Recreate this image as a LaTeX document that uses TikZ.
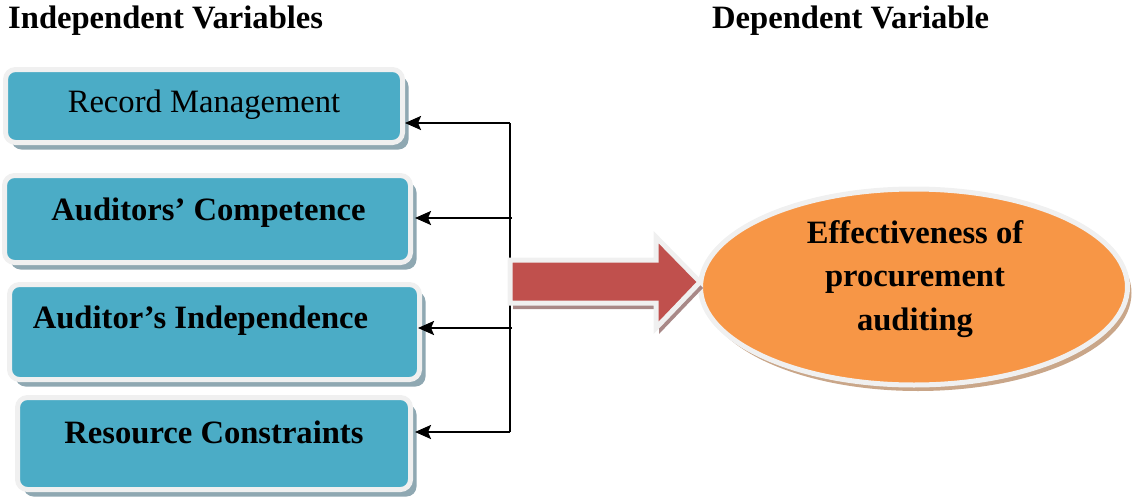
\documentclass[tikz,border=0pt]{standalone}
\usepackage{fontspec}
\setmainfont{Liberation Serif}
\usetikzlibrary{shadows,shapes.geometric,arrows.meta}
\definecolor{boxblue}{HTML}{4BACC6}
\definecolor{boxshad}{HTML}{8FA8B2}
\definecolor{rimwhite}{HTML}{F0F0F0}
\definecolor{arrred}{HTML}{C0504D}
\definecolor{arrshad}{HTML}{A88887}
\definecolor{ellorange}{HTML}{F79646}
\definecolor{ellshad}{HTML}{C9A689}
\newcommand{\bigfs}{\fontsize{32.6}{43.5}\selectfont}
\begin{document}
\begin{tikzpicture}[x=1pt,y=-1pt,
  varbox/.style={rectangle, rounded corners=10pt, fill=boxblue, draw=rimwhite, line width=5pt,
    inner sep=0pt, drop shadow={shadow xshift=6pt,shadow yshift=-7pt,fill=boxshad,opacity=1}},
  lbl/.style={inner sep=0pt, anchor=base, font=\bigfs\bfseries},
  conn/.style={line width=2.4pt, draw=black},
  arr/.style={conn, -{Stealth[length=16pt,width=14pt,inset=3pt]}},
]
\useasboundingbox (0,0) rectangle (1136,501);

% titles
\node[inner sep=0pt, anchor=base west, font=\bigfs\bfseries] (tind) at (8,28) {Independent Variables};
\node[inner sep=0pt, anchor=base west, font=\bigfs\bfseries] (tdep) at (712,28) {Dependent Variable};

% boxes
\node[varbox, minimum width=397pt, minimum height=73pt] (b1) at (204,106) {};
\node[varbox, minimum width=406pt, minimum height=87pt] (b2) at (207.5,219) {};
\node[varbox, minimum width=410pt, minimum height=95pt] (b3) at (214.5,332) {};
\node[varbox, minimum width=393pt, minimum height=92pt] (b4) at (214,443.5) {};

\node[inner sep=0pt, anchor=base, font=\bigfs] (l1) at (204,112) {Record Management};
\node[lbl] (l2) at (208.5,220) {Auditors’ Competence};
\node[lbl] (l3) at (200.5,328) {Auditor’s Independence};
\node[lbl] (l4) at (214,443) {Resource Constraints};

% connectors
\coordinate (j1) at (510,123);
\coordinate (j2) at (512,218);
\coordinate (j3) at (512,328);
\coordinate (j4) at (510,432);
\draw[line width=1.8pt] (j1) -- (j4);
\draw[arr] (j1) -- (j1 -| b1.east);
\draw[arr] (j2) -- ([xshift=2pt]j2 -| b2.east);
\draw[arr] (j3) -- ([xshift=-4pt]j3 -| b3.east);
\draw[arr] (j4) -- ([xshift=2pt]j4 -| b4.east);

% ellipse
\node[ellipse, fill=ellorange, draw=rimwhite, line width=5pt, inner sep=0pt,
  minimum width=427pt, minimum height=196pt,
  drop shadow={shadow xshift=4pt,shadow yshift=-6pt,fill=ellshad,opacity=1}] (dv) at (914,287) {};
\node[inner sep=0pt, anchor=base, align=center, font=\bigfs\bfseries] (dvl) at (915,330)
  {Effectiveness of\\procurement\\auditing};

% big arrow
\path[fill=arrred, draw=rimwhite, line width=5pt, miter limit=3,
  drop shadow={shadow xshift=3pt,shadow yshift=-6pt,fill=arrshad,opacity=1}]
  (510,260) -- (656,260) -- (656,237) -- (700,282) -- (656,328) -- (656,303) -- (510,303) -- cycle;
\end{tikzpicture}
\end{document}
